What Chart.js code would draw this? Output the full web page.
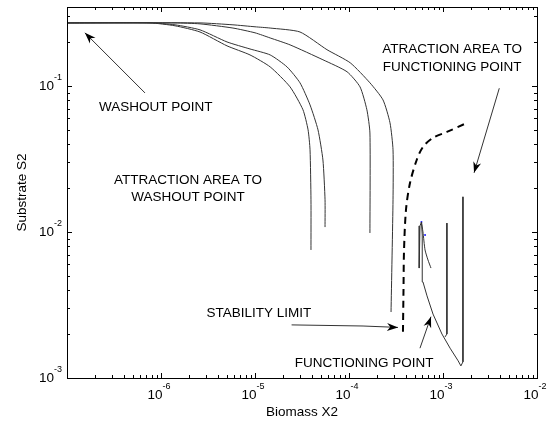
<!DOCTYPE html>
<html>
<head>
<meta charset="utf-8">
<script src="https://cdn.jsdelivr.net/npm/chart.js@4.4.1/dist/chart.umd.min.js"></script>
<style>
  html, body { margin: 0; padding: 0; background: #fff; }
  #wrap { width: 555px; height: 422px; }
</style>
</head>
<body>
<div id="wrap"><canvas id="phaseChart" width="555" height="422"></canvas></div>
<script>
// trajectories that end at the washout point (Biomass X2, Substrate S2)
const washout1X = [1e-7, 7.64e-7, 1.41e-6, 2.60e-6, 5.04e-6, 8.85e-6, 1.45e-5, 2.36e-5, 3.24e-5, 3.67e-5, 3.85e-5, 3.94e-5, 3.94e-5];
const washout1Y = [0.270, 0.270, 0.258, 0.234, 0.188, 0.163, 0.135, 0.0985, 0.0686, 0.0500, 0.0365, 0.0166, 0.00753];
const washout2X = [1e-7, 7.64e-7, 1.41e-6, 2.60e-6, 5.04e-6, 8.85e-6, 1.45e-5, 2.19e-5, 3.01e-5, 3.85e-5, 4.68e-5, 5.28e-5, 5.56e-5, 5.56e-5];
const washout2Y = [0.270, 0.270, 0.262, 0.242, 0.200, 0.179, 0.163, 0.135, 0.105, 0.0741, 0.0500, 0.0311, 0.0166, 0.0108];
const washout3X = [1e-7, 1.41e-6, 2.60e-6, 5.83e-6, 1.00e-5, 1.45e-5, 2.36e-5, 5.28e-5, 9.53e-5, 1.31e-4, 1.55e-4, 1.67e-4, 1.67e-4];
const washout3Y = [0.270, 0.270, 0.266, 0.249, 0.231, 0.213, 0.191, 0.151, 0.125, 0.0985, 0.0686, 0.0476, 0.00984];
const washout4X = [1e-7, 2.60e-6, 5.83e-6, 1.00e-5, 1.45e-5, 3.01e-5, 5.83e-5, 1.03e-4, 1.67e-4, 2.30e-4, 2.73e-4, 2.94e-4, 2.94e-4, 2.80e-4];
const washout4Y = [0.270, 0.270, 0.262, 0.254, 0.249, 0.234, 0.177, 0.144, 0.105, 0.0802, 0.0559, 0.0365, 0.0166, 0.00283];

// stability limit (dashed)
const limitX = [3.75e-4, 3.80e-4, 3.85e-4, 4.04e-4, 4.46e-4, 5.25e-4, 6.12e-4, 7.83e-4, 1.10e-3, 1.71e-3];
const limitY = [2.07e-3, 4.01e-3, 7.53e-3, 0.0142, 0.0217, 0.0311, 0.0382, 0.0441, 0.0484, 0.0550];

// trajectories that end at the functioning point
const func1X = [1.63e-3, 1.63e-3, 1.55e-3, 1.45e-3, 1.19e-3, 9.75e-4, 7.83e-4, 6.76e-4, 6.12e-4, 6.05e-4, 5.98e-4, 5.90e-4, 5.69e-4, 5.60e-4, 5.56e-4];
const func1Y = [0.0174, 0.00129, 0.00121, 0.00131, 0.00160, 0.00200, 0.00274, 0.00365, 0.00455, 0.00695, 0.00953, 0.0117, 0.0110, 0.00953, 0.00566];
const func2X = [1.10e-3, 1.10e-3, 1.05e-3];
const func2Y = [0.0115, 0.00200, 0.00191];
const func3X = [5.90e-4, 6.12e-4, 6.44e-4, 6.92e-4, 7.45e-4];
const func3Y = [0.0117, 0.0100, 0.00753, 0.00643, 0.00566];
const markX = [5.90e-4, 6.44e-4];
const markY = [0.0117, 0.00953];

// axis limits and labelled ticks
const xLimits = [1e-7, 1e-2];
const yLimits = [1e-3, 0.347];
const xTickValues = [1e-6, 1e-5, 1e-4, 1e-3, 1e-2];
const yTickValues = [1e-3, 1e-2, 1e-1];

// annotations
const notes = [
  { lines: ["WASHOUT POINT"], x: 8.81e-7, y: 0.0718 },
  { lines: ["ATTRACTION AREA TO", "WASHOUT POINT"], x: 1.94e-6, y: 0.0227 },
  { lines: ["ATRACTION AREA TO", "FUNCTIONING POINT"], x: 1.25e-3, y: 0.177 },
  { lines: ["STABILITY LIMIT"], x: 1.10e-5, y: 2.79e-3 },
  { lines: ["FUNCTIONING POINT"], x: 1.45e-4, y: 1.27e-3 },
];
const pointers = [
  [[6.76e-7, 0.0895], [1.55e-7, 0.231]],
  [[3.97e-3, 0.0964], [2.14e-3, 0.0254]],
  [[2.45e-5, 2.31e-3], [1.41e-4, 2.27e-3], [3.32e-4, 2.22e-3]],
  [[5.69e-4, 1.60e-3], [7.45e-4, 2.63e-3]],
];

const FONT = '"Liberation Sans", Arial, sans-serif';

const toPoints = (xs, ys) => xs.map((x, i) => ({ x: x, y: ys[i] }));

const solid = (xs, ys, tension = 0) => ({
  data: toPoints(xs, ys),
  showLine: true,
  borderColor: "#333",
  borderWidth: 1,
  pointRadius: 0,
  tension: tension,
});

const logTicks = (min, max) => {
  const out = [];
  for (let e = Math.floor(Math.log10(min)); e <= Math.ceil(Math.log10(max)); e++) {
    for (let k = 1; k <= 9; k++) {
      const v = k * Math.pow(10, e);
      if (v >= min * 0.999 && v <= max * 1.001) out.push({ v: v, major: k === 1 });
    }
  }
  return out;
};

function drawPower(ctx, value, cx, cy, align) {
  const exp = String(Math.round(Math.log10(value)));
  ctx.font = "13.5px " + FONT;
  const wBase = ctx.measureText("10").width;
  ctx.font = "9px " + FONT;
  const wExp = ctx.measureText(exp).width;
  const left = align === "right" ? cx - wBase - wExp : cx - (wBase + wExp) / 2;
  ctx.textAlign = "left";
  ctx.textBaseline = "middle";
  ctx.font = "13.5px " + FONT;
  ctx.fillText("10", left, cy);
  ctx.font = "9px " + FONT;
  ctx.fillText(exp, left + wBase, cy - 8);
}

function drawArrow(ctx, pts) {
  ctx.strokeStyle = "#333";
  ctx.lineWidth = 1;
  ctx.beginPath();
  ctx.moveTo(pts[0][0], pts[0][1]);
  for (let i = 1; i < pts.length; i++) ctx.lineTo(pts[i][0], pts[i][1]);
  ctx.stroke();
  const [x1, y1] = pts[pts.length - 2];
  const [x2, y2] = pts[pts.length - 1];
  const a = Math.atan2(y2 - y1, x2 - x1);
  const L = 11, W = 4;
  const c = Math.cos(a), s = Math.sin(a);
  ctx.fillStyle = "#000";
  ctx.beginPath();
  ctx.moveTo(x2, y2);
  ctx.lineTo(x2 - L * c + W * s, y2 - L * s - W * c);
  ctx.lineTo(x2 - 0.7 * L * c, y2 - 0.7 * L * s);
  ctx.lineTo(x2 - L * c - W * s, y2 - L * s + W * c);
  ctx.closePath();
  ctx.fill();
}

const matlabAxes = {
  id: "matlabAxes",
  afterDatasetsDraw(chart) {
    const ctx = chart.ctx;
    const { left, right, top, bottom } = chart.chartArea;
    const xs = chart.scales.x, ys = chart.scales.y;
    ctx.save();

    // box
    ctx.strokeStyle = "#000";
    ctx.lineWidth = 1;
    ctx.strokeRect(Math.round(left) + 0.5, Math.round(top) + 0.5, Math.round(right - left), Math.round(bottom - top));

    // inward ticks on all four sides
    ctx.beginPath();
    logTicks(xLimits[0], xLimits[1]).forEach((t) => {
      const p = Math.round(xs.getPixelForValue(t.v)) + 0.5;
      const len = t.major ? 5 : 3;
      ctx.moveTo(p, bottom); ctx.lineTo(p, bottom - len);
      ctx.moveTo(p, top); ctx.lineTo(p, top + len);
    });
    logTicks(yLimits[0], yLimits[1]).forEach((t) => {
      const p = Math.round(ys.getPixelForValue(t.v)) + 0.5;
      const len = t.major ? 5 : 3;
      ctx.moveTo(left, p); ctx.lineTo(left + len, p);
      ctx.moveTo(right, p); ctx.lineTo(right - len, p);
    });
    ctx.stroke();

    // tick labels
    ctx.fillStyle = "#000";
    xTickValues.forEach((v) => drawPower(ctx, v, xs.getPixelForValue(v) - 2, bottom + 17, "center"));
    yTickValues.forEach((v) => drawPower(ctx, v, left - 5, ys.getPixelForValue(v), "right"));

    // axis titles
    ctx.font = "13.5px " + FONT;
    ctx.textAlign = "center";
    ctx.textBaseline = "middle";
    ctx.fillText("Biomass X2", (left + right) / 2, bottom + 34);
    ctx.save();
    ctx.translate(22, (top + bottom) / 2);
    ctx.rotate(-Math.PI / 2);
    ctx.fillText("Substrate S2", 0, 0);
    ctx.restore();

    // annotations
    notes.forEach((n) => {
      const cx = xs.getPixelForValue(n.x), cy = ys.getPixelForValue(n.y);
      n.lines.forEach((line, i) => ctx.fillText(line, cx, cy + i * 17.5));
    });
    pointers.forEach((pts) => {
      drawArrow(ctx, pts.map((p) => [xs.getPixelForValue(p[0]), ys.getPixelForValue(p[1])]));
    });

    ctx.restore();
  },
};

const chart = new Chart(document.getElementById("phaseChart").getContext("2d"), {
  type: "scatter",
  data: {
    datasets: [
      solid(washout1X, washout1Y, 0.2),
      solid(washout2X, washout2Y, 0.2),
      solid(washout3X, washout3Y, 0.2),
      solid(washout4X, washout4Y, 0.2),
      solid(func1X, func1Y),
      solid(func2X, func2Y),
      solid(func3X, func3Y, 0.2),
      {
        data: toPoints(limitX, limitY),
        showLine: true,
        borderColor: "#000",
        borderWidth: 2,
        borderDash: [7, 5],
        pointRadius: 0,
        tension: 0.3,
      },
      {
        data: toPoints(markX, markY),
        showLine: false,
        pointRadius: 1,
        pointBorderWidth: 0,
        backgroundColor: "#1a1aff",
      },
    ],
  },
  options: {
    responsive: false,
    animation: false,
    devicePixelRatio: 1,
    layout: { padding: { left: 0, top: 7, right: 18, bottom: 0 } },
    plugins: {
      legend: { display: false },
      tooltip: { enabled: false },
    },
    scales: {
      x: {
        type: "logarithmic",
        min: xLimits[0],
        max: xLimits[1],
        ticks: { display: false },
        grid: { display: false },
        border: { display: false },
        afterFit: (scale) => { scale.height = 44; },
      },
      y: {
        type: "logarithmic",
        min: yLimits[0],
        max: yLimits[1],
        ticks: { display: false },
        grid: { display: false },
        border: { display: false },
        afterFit: (scale) => { scale.width = 67; },
      },
    },
  },
  plugins: [matlabAxes],
});
</script>
</body>
</html>
